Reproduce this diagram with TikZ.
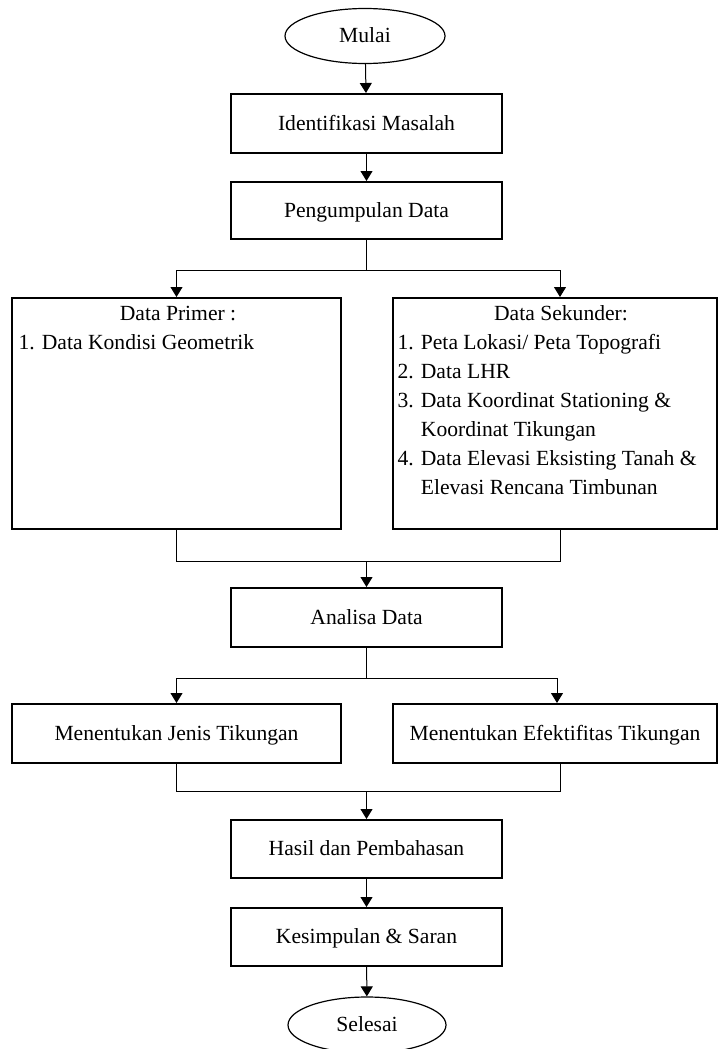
\documentclass[tikz,border=0pt]{standalone}
\usepackage{fontspec}
\setmainfont{Liberation Serif}
\usetikzlibrary{shapes.geometric,arrows.meta}

\begin{document}
\begin{tikzpicture}[x=0.5pt, y=-0.5pt, >={Triangle[length=5pt,width=6pt]},
	font=\fontsize{10.8}{14.5}\selectfont,
	box/.style={draw, line width=1pt, text height=0.66em, text depth=0pt, minimum height=29.5pt},
	mid/.style={box, minimum width=135.5pt},
	side/.style={box, minimum width=164.5pt},
	oval/.style={draw, ellipse, line width=0.6pt, minimum width=80pt, minimum height=27.5pt, inner sep=0pt, text height=0.66em, text depth=0pt},
	every path/.style={line width=0.5pt}]
	\useasboundingbox (0,0) rectangle (719,1049);
	\node[oval] (Mulai) at (365,36) {Mulai};
	\node[mid] (Ident) at (366.5,123.5) {Identifikasi Masalah};
	\node[mid, minimum height=28.5pt] (Kumpul) at (366.5,210.5) {Pengumpulan Data};
	\node[side, minimum height=115.5pt] (Primer) at (176.5,413.5) {};
	\node[side, minimum width=162pt, minimum height=115.5pt] (Sekunder) at (555,413.5) {};
	\node[mid] (Analisa) at (366.5,617.5) {Analisa Data};
	\node[side] (Jenis) at (176.5,733.5) {Menentukan Jenis Tikungan};
	\node[side, minimum width=162pt] (Efektif) at (555,733.5) {Menentukan Efektifitas Tikungan};
	\node[mid, minimum height=29pt] (Hasil) at (366.5,849) {Hasil dan Pembahasan};
	\node[mid, minimum height=29pt] (Simpul) at (366.5,937) {Kesimpulan \& Saran};
	\node[oval, minimum width=79pt, minimum height=28pt] (Selesai) at (367,1025) {Selesai};
	% isi kotak data
	\node[anchor=base, inner sep=0pt] (PrimerJudul) at (178,320) {Data Primer :};
	\node[anchor=base west, inner sep=0pt] (PrimerIsi) at (18,349) {1. Data Kondisi Geometrik};
	\node[anchor=base, inner sep=0pt] (SekunderJudul) at (561,320) {Data Sekunder:};
	\node[anchor=north west, align=left, inner sep=0pt] (SekunderIsi) at (397,334) {1. Peta Lokasi/ Peta Topografi\\2. Data LHR\\3. Data Koordinat Stationing \&\\\phantom{3. }Koordinat Tikungan\\4. Data Elevasi Eksisting Tanah \&\\\phantom{4. }Elevasi Rencana Timbunan};
	% titik cabang
	\coordinate (C1) at (366.5,270);
	\coordinate (C2) at (366.5,561);
	\coordinate (C3) at (366.5,678);
	\coordinate (C4) at (366.5,791);
	\draw[->] (Mulai) -- (Ident);
	\draw[->] (Ident) -- (Kumpul);
	\draw (Kumpul) -- (C1);
	\draw[->] (C1) -| (Primer.north);
	\draw[->] (C1) -| ([xshift=2.5pt]Sekunder.north);
	\draw (Primer.south) |- (C2);
	\draw ([xshift=2.5pt]Sekunder.south) |- (C2);
	\draw[->] (C2) -- (Analisa);
	\draw (Analisa) -- (C3);
	\draw[->] (C3) -| (Jenis.north);
	\draw[->] (C3) -| ([xshift=1pt]Efektif.north);
	\draw (Jenis.south) |- (C4);
	\draw ([xshift=2.5pt]Efektif.south) |- (C4);
	\draw[->] (C4) -- (Hasil);
	\draw[->] (Hasil) -- (Simpul);
	\draw[->] (Simpul) -- (Selesai);
\end{tikzpicture}
\end{document}
